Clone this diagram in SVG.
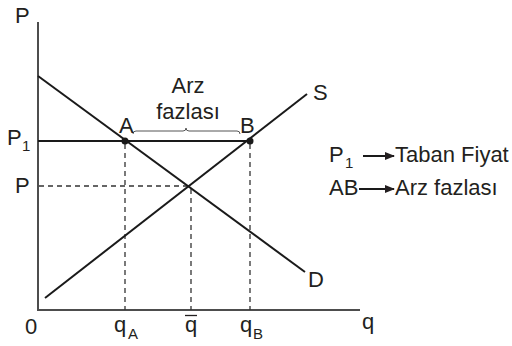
<svg xmlns="http://www.w3.org/2000/svg" width="512" height="346" viewBox="0 0 512 346">
<style>
text{font-family:"Liberation Sans",Arial,sans-serif;font-size:22px;fill:#231f20}
.sub{font-size:15px}
.ax{stroke:#4d4d4d;stroke-width:2;fill:none}
.ln{stroke:#1a1a1a;stroke-width:2;fill:none}
.ds{stroke:#333;stroke-width:1.3;stroke-dasharray:5,4;fill:none}
</style>
<defs>
<marker id="ah" markerWidth="10" markerHeight="8" refX="9" refY="4" orient="auto" markerUnits="userSpaceOnUse">
<path d="M0,0 L10,4 L0,8 Z" fill="#231f20"/>
</marker>
</defs>
<g id="axes">
<line class="ax" x1="38" y1="22" x2="38" y2="311"/>
<line class="ax" x1="37" y1="310" x2="360" y2="310"/>
</g>
<g id="connectors">
<line class="ds" x1="125" y1="144" x2="125" y2="310"/>
<line class="ds" x1="191" y1="189" x2="191" y2="310"/>
<line class="ds" x1="250" y1="144" x2="250" y2="310"/>
<line class="ds" x1="39" y1="186" x2="188" y2="186"/>
<line class="ln" x1="38" y1="141" x2="250" y2="141"/>
<line id="D" class="ln" x1="38" y1="76" x2="305" y2="272"/>
<line id="S" class="ln" x1="45" y1="298" x2="307" y2="94"/>
<path d="M133,134 Q133,131 136,131 L183,131 Q186,131 186,128 Q186,131 189,131 L237,131 Q240,131 240,134" stroke="#555" stroke-width="1" fill="none"/>
<line class="ln" x1="363" y1="156" x2="394" y2="156" stroke-width="1.5" marker-end="url(#ah)"/>
<line class="ln" x1="359" y1="189" x2="394" y2="189" stroke-width="1.5" marker-end="url(#ah)"/>
</g>
<g id="pointA"><circle cx="125" cy="141" r="3.5" fill="#1a1a1a"/><text x="119" y="133">A</text></g>
<g id="pointB"><circle cx="250" cy="141" r="3.5" fill="#1a1a1a"/><text x="240" y="133">B</text></g>
<g id="labels">
<text x="15" y="23">P</text>
<text x="7" y="145">P</text><text class="sub" x="22" y="151">1</text>
<text x="15" y="193">P</text>
<text x="188" y="93" text-anchor="middle">Arz</text>
<text x="188" y="119" text-anchor="middle">fazlası</text>
<text x="313" y="100">S</text>
<text x="308" y="287">D</text>
<text x="25" y="334">0</text>
<text x="114" y="332">q</text><text class="sub" x="128" y="339">A</text>
<text x="185" y="332">q</text>
<line x1="185" y1="315.5" x2="197" y2="315.5" stroke="#231f20" stroke-width="1.3"/>
<text x="240" y="332">q</text><text class="sub" x="253" y="339">B</text>
<text x="362" y="329">q</text>
</g>
<g id="legend">
<text x="329" y="162">P</text><text class="sub" x="345" y="168">1</text>
<text x="395" y="162">Taban Fiyat</text>
<text x="329" y="195">AB</text>
<text x="395" y="195">Arz fazlası</text>
</g>
</svg>
